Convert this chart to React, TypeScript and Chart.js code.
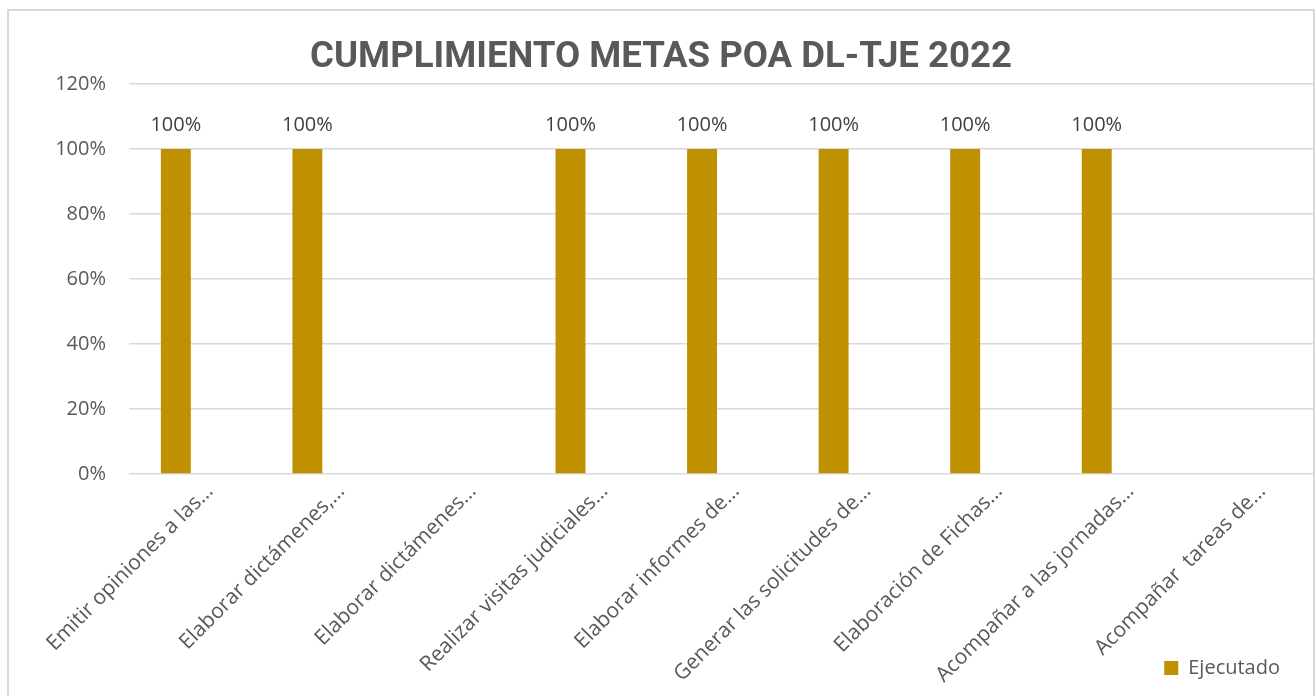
import React, { useEffect, useRef } from "react";
import { Chart, registerables } from "chart.js";

Chart.register(...registerables);

const chartTitle = "CUMPLIMIENTO METAS POA DL-TJE 2022";
const categories = [
  "Emitir opiniones a las…",
  "Elaborar dictámenes,…",
  "Elaborar dictámenes…",
  "Realizar visitas judiciales…",
  "Elaborar informes de…",
  "Generar las solicitudes de…",
  "Elaboración de Fichas…",
  "Acompañar a las jornadas…",
  "Acompañar  tareas de…",
];
const seriesName = "Ejecutado";
const ejecutado: (number | null)[] = [1, 1, null, 1, 1, 1, 1, 1, null];
const emptySeries: (number | null)[] = [null, null, null, null, null, null, null, null, null];
const yMin = 0;
const yMax = 1.2;
const yStep = 0.2;

const BAR_COLOR = "#BF9000";
const TEXT_COLOR = "#595959";
const LABEL_COLOR = "#404040";
const GRID_COLOR = "#D9D9D9";
const FONT = "'Open Sans', sans-serif";

const pct = (v: number) => Math.round(v * 100) + "%";

const dataLabelPlugin = {
  id: "dataLabels",
  afterDatasetsDraw(chart: any) {
    const ctx = chart.ctx;
    const meta = chart.getDatasetMeta(0);
    ctx.save();
    ctx.font = `20px ${FONT}`;
    ctx.fillStyle = LABEL_COLOR;
    ctx.textAlign = "center";
    ctx.textBaseline = "middle";
    meta.data.forEach((el: any, i: number) => {
      const v = ejecutado[i];
      if (v == null) return;
      ctx.fillText(pct(v), el.x, el.y - 24);
    });
    ctx.restore();
  },
};

// let the rotated category labels run down past the legend row (no clipping)
const extendLabelArea = {
  id: "extendLabelArea",
  afterLayout(chart: any) {
    const x = chart.scales.x;
    if (x) x.bottom = chart.height;
  },
};

export default function App() {
  const canvasRef = useRef<HTMLCanvasElement | null>(null);

  useEffect(() => {
    if (!canvasRef.current) return;
    const chart = new Chart(canvasRef.current, {
      type: "bar",
      data: {
        labels: categories,
        datasets: [
          {
            label: seriesName,
            data: ejecutado,
            backgroundColor: BAR_COLOR,
            borderWidth: 0,
            categoryPercentage: 0.576,
            barPercentage: 0.79,
          },
          {
            label: "",
            data: emptySeries,
            backgroundColor: "rgba(0,0,0,0)",
            borderWidth: 0,
            categoryPercentage: 0.576,
            barPercentage: 0.79,
          },
        ],
      },
      options: {
        animation: false,
        responsive: true,
        maintainAspectRatio: false,
        layout: { padding: { left: 0, right: 0, top: 0, bottom: 8 } },
        plugins: {
          title: {
            display: true,
            text: chartTitle,
            color: TEXT_COLOR,
            font: { family: "Roboto, sans-serif", size: 36.6, weight: "bold", lineHeight: 1.2 },
            padding: { top: 25, bottom: 4 },
          },
          legend: {
            position: "bottom",
            align: "end",
            labels: {
              filter: (item: any) => item.datasetIndex === 0,
              boxWidth: 14,
              boxHeight: 14,
              padding: 33,
              color: TEXT_COLOR,
              font: { family: FONT, size: 20 },
            },
          },
          tooltip: { enabled: false },
        },
        scales: {
          x: {
            grid: { display: false },
            border: { display: false },
            ticks: {
              color: TEXT_COLOR,
              font: { family: FONT, size: 21 },
              maxRotation: 45,
              minRotation: 45,
              autoSkip: false,
              labelOffset: 15,
              padding: -3,
            },
            afterFit(scale: any) {
              scale.height = 151;
            },
          },
          y: {
            min: yMin,
            max: yMax,
            ticks: {
              stepSize: yStep,
              callback: (v: any) => pct(Number(v)),
              color: TEXT_COLOR,
              font: { family: FONT, size: 20 },
              padding: 23,
            },
            grid: { color: GRID_COLOR, lineWidth: 1.5, drawTicks: false },
            border: { display: false },
            afterFit(scale: any) {
              scale.width = 120;
            },
          },
        },
      },
      plugins: [dataLabelPlugin, extendLabelArea],
    } as any);
    return () => chart.destroy();
  }, []);

  return (
    <div
      style={{
        position: "fixed",
        left: 7,
        top: 9,
        width: 1308,
        height: 687,
        boxSizing: "border-box",
        borderTop: `2px solid ${GRID_COLOR}`,
        borderLeft: `2px solid ${GRID_COLOR}`,
        borderRight: `2px solid ${GRID_COLOR}`,
        background: "#fff",
      }}
    >
      <canvas ref={canvasRef} />
    </div>
  );
}
